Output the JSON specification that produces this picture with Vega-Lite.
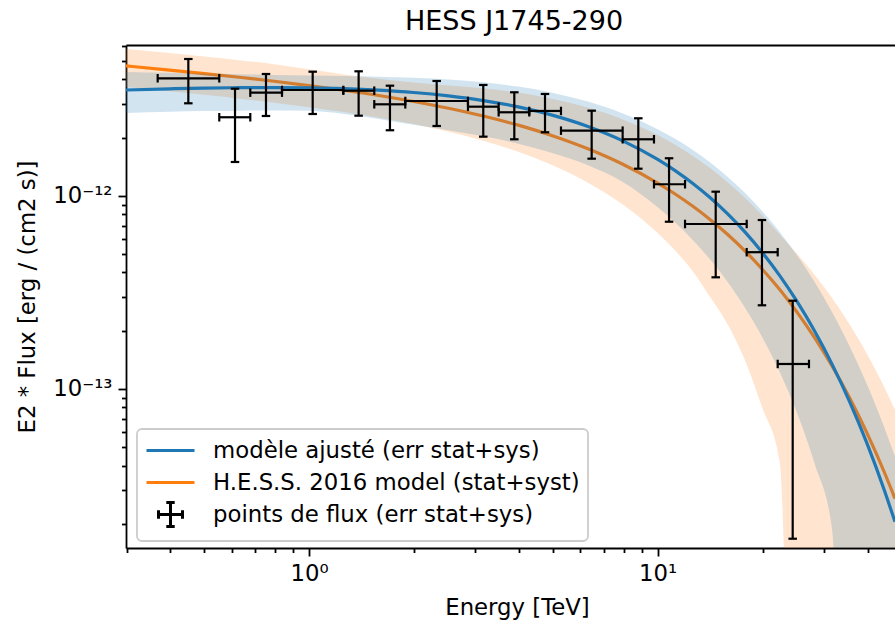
{
  "$schema": "https://vega.github.io/schema/vega-lite/v6.json",
  "width": 769,
  "height": 503,
  "autosize": {"type": "none"},
  "padding": {"left": 126, "top": 45, "right": 0, "bottom": 78},
  "background": "white",
  "title": {"text": "HESS J1745-290", "font": "DejaVu Sans", "fontSize": 27, "fontWeight": "normal", "color": "black", "frame": "group", "offset": 12, "dx": 3.5, "dy": 34, "baseline": "alphabetic"},
  "config": {
    "view": {"stroke": null},
    "font": "DejaVu Sans",
    "legend": {
      "orient": "none", "legendX": 11, "legendY": 384, "padding": 8,
      "fillColor": "rgba(255,255,255,0.8)", "strokeColor": "#cccccc", "strokeWidth": 1.8, "cornerRadius": 5,
      "labelFont": "DejaVu Sans", "labelFontSize": 22.8, "labelColor": "black", "labelLimit": 0,
      "symbolSize": 576, "symbolStrokeWidth": 3, "symbolOpacity": 1, "symbolFillColor": "transparent",
      "labelOffset": 41, "rowPadding": -5
    }
  },
  "datasets": {
    "pts": [
      {"e": 0.4508, "elo": 0.3682, "ehi": 0.553, "f": 4.058e-12, "flo": 3.011e-12, "fhi": 5.108e-12, "series": "points de flux (err stat+sys)"},
      {"e": 0.6136, "elo": 0.553, "ehi": 0.6787, "f": 2.549e-12, "flo": 1.495e-12, "fhi": 3.584e-12, "series": "points de flux (err stat+sys)"},
      {"e": 0.7528, "elo": 0.6787, "ehi": 0.8368, "f": 3.418e-12, "flo": 2.588e-12, "fhi": 4.271e-12, "series": "points de flux (err stat+sys)"},
      {"e": 1.0247, "elo": 0.8368, "ehi": 1.2545, "f": 3.529e-12, "flo": 2.65e-12, "fhi": 4.39e-12, "series": "points de flux (err stat+sys)"},
      {"e": 1.388, "elo": 1.2545, "ehi": 1.539, "f": 3.499e-12, "flo": 2.597e-12, "fhi": 4.41e-12, "series": "points de flux (err stat+sys)"},
      {"e": 1.707, "elo": 1.539, "ehi": 1.889, "f": 2.975e-12, "flo": 2.183e-12, "fhi": 3.715e-12, "series": "points de flux (err stat+sys)"},
      {"e": 2.324, "elo": 1.889, "ehi": 2.857, "f": 3.095e-12, "flo": 2.297e-12, "fhi": 3.929e-12, "series": "points de flux (err stat+sys)"},
      {"e": 3.161, "elo": 2.857, "ehi": 3.499, "f": 2.892e-12, "flo": 2.022e-12, "fhi": 3.747e-12, "series": "points de flux (err stat+sys)"},
      {"e": 3.88, "elo": 3.499, "ehi": 4.283, "f": 2.705e-12, "flo": 1.96e-12, "fhi": 3.434e-12, "series": "points de flux (err stat+sys)"},
      {"e": 4.752, "elo": 4.283, "ehi": 5.281, "f": 2.748e-12, "flo": 2.131e-12, "fhi": 3.365e-12, "series": "points de flux (err stat+sys)"},
      {"e": 6.467, "elo": 5.281, "ehi": 7.935, "f": 2.172e-12, "flo": 1.555e-12, "fhi": 2.757e-12, "series": "points de flux (err stat+sys)"},
      {"e": 8.799, "elo": 7.935, "ehi": 9.759, "f": 1.96e-12, "flo": 1.38e-12, "fhi": 2.518e-12, "series": "points de flux (err stat+sys)"},
      {"e": 10.78, "elo": 9.759, "ehi": 11.98, "f": 1.146e-12, "flo": 7.33e-13, "fhi": 1.563e-12, "series": "points de flux (err stat+sys)"},
      {"e": 14.67, "elo": 11.98, "ehi": 18.0, "f": 7.135e-13, "flo": 3.777e-13, "fhi": 1.049e-12, "series": "points de flux (err stat+sys)"},
      {"e": 19.91, "elo": 18.0, "ehi": 22.09, "f": 5.096e-13, "flo": 2.705e-13, "fhi": 7.48e-13, "series": "points de flux (err stat+sys)"},
      {"e": 24.39, "elo": 22.09, "ehi": 27.16, "f": 1.343e-13, "flo": 1.67e-14, "fhi": 2.857e-13, "series": "points de flux (err stat+sys)"}
    ],
    "blue": [
      {"e": 0.2987, "f": 3.529e-12, "lo": 2.68e-12, "hi": 4.378e-12},
      {"e": 0.3981, "f": 3.579e-12, "lo": 2.72e-12, "hi": 4.331e-12},
      {"e": 0.5012, "f": 3.609e-12, "lo": 2.743e-12, "hi": 4.292e-12},
      {"e": 0.631, "f": 3.628e-12, "lo": 2.757e-12, "hi": 4.256e-12},
      {"e": 0.7943, "f": 3.633e-12, "lo": 2.761e-12, "hi": 4.224e-12},
      {"e": 1.0, "f": 3.62e-12, "lo": 2.751e-12, "hi": 4.197e-12},
      {"e": 1.2589, "f": 3.584e-12, "lo": 2.65e-12, "hi": 4.172e-12},
      {"e": 1.5849, "f": 3.52e-12, "lo": 2.5e-12, "hi": 4.139e-12},
      {"e": 1.9953, "f": 3.424e-12, "lo": 2.33e-12, "hi": 4.087e-12},
      {"e": 2.5119, "f": 3.288e-12, "lo": 2.18e-12, "hi": 4.0e-12},
      {"e": 3.1623, "f": 3.11e-12, "lo": 2.03e-12, "hi": 3.867e-12},
      {"e": 3.9811, "f": 2.884e-12, "lo": 1.86e-12, "hi": 3.674e-12},
      {"e": 5.0119, "f": 2.607e-12, "lo": 1.66e-12, "hi": 3.409e-12},
      {"e": 6.3096, "f": 2.284e-12, "lo": 1.44e-12, "hi": 3.072e-12},
      {"e": 7.9433, "f": 1.924e-12, "lo": 1.179e-12, "hi": 2.669e-12},
      {"e": 10.0, "f": 1.541e-12, "lo": 8.711e-13, "hi": 2.211e-12},
      {"e": 11.22, "f": 1.349e-12, "lo": 7.267e-13, "hi": 1.971e-12},
      {"e": 12.589, "f": 1.16e-12, "lo": 5.915e-13, "hi": 1.729e-12},
      {"e": 14.125, "f": 9.781e-13, "lo": 4.68e-13, "hi": 1.4882e-12},
      {"e": 15.849, "f": 8.068e-13, "lo": 3.583e-13, "hi": 1.2553e-12},
      {"e": 17.783, "f": 6.493e-13, "lo": 2.637e-13, "hi": 1.0349e-12},
      {"e": 19.953, "f": 5.081e-13, "lo": 1.849e-13, "hi": 8.313e-13},
      {"e": 22.387, "f": 3.855e-13, "lo": 1.222e-13, "hi": 6.488e-13},
      {"e": 25.119, "f": 2.823e-13, "lo": 7.47e-14, "hi": 4.899e-13},
      {"e": 28.184, "f": 1.989e-13, "lo": 4.091e-14, "hi": 3.569e-13},
      {"e": 31.623, "f": 1.341e-13, "lo": 1.871e-14, "hi": 2.495e-13},
      {"e": 35.481, "f": 8.603e-14, "lo": 1e-16, "hi": 1.665e-13},
      {"e": 39.811, "f": 5.222e-14, "lo": 1e-16, "hi": 1.054e-13},
      {"e": 44.668, "f": 2.979e-14, "lo": 1e-16, "hi": 6.299e-14},
      {"e": 47.93, "f": 2.042e-14, "lo": 1e-16, "hi": 4.449e-14}
    ],
    "orange": [
      {"e": 0.2987, "f": 4.706e-12, "lo": 3.652e-12, "hi": 5.76e-12},
      {"e": 0.3981, "f": 4.477e-12, "lo": 3.474e-12, "hi": 5.48e-12},
      {"e": 0.5012, "f": 4.294e-12, "lo": 3.33e-12, "hi": 5.258e-12},
      {"e": 0.631, "f": 4.107e-12, "lo": 3.183e-12, "hi": 5.031e-12},
      {"e": 0.7943, "f": 3.917e-12, "lo": 3.033e-12, "hi": 4.801e-12},
      {"e": 1.0, "f": 3.721e-12, "lo": 2.876e-12, "hi": 4.52e-12},
      {"e": 1.2589, "f": 3.517e-12, "lo": 2.712e-12, "hi": 4.25e-12},
      {"e": 1.5849, "f": 3.304e-12, "lo": 2.537e-12, "hi": 4.03e-12},
      {"e": 1.9953, "f": 3.077e-12, "lo": 2.349e-12, "hi": 3.86e-12},
      {"e": 2.5119, "f": 2.839e-12, "lo": 2.146e-12, "hi": 3.72e-12},
      {"e": 3.1623, "f": 2.587e-12, "lo": 1.927e-12, "hi": 3.6e-12},
      {"e": 3.9811, "f": 2.32e-12, "lo": 1.689e-12, "hi": 3.42e-12},
      {"e": 5.0119, "f": 2.04e-12, "lo": 1.435e-12, "hi": 3.17e-12},
      {"e": 6.3096, "f": 1.75e-12, "lo": 1.168e-12, "hi": 2.86e-12},
      {"e": 7.9433, "f": 1.455e-12, "lo": 8.996e-13, "hi": 2.485e-12},
      {"e": 10.0, "f": 1.162e-12, "lo": 6.401e-13, "hi": 2.06e-12},
      {"e": 11.22, "f": 1.02e-12, "lo": 5.193e-13, "hi": 1.835e-12},
      {"e": 12.589, "f": 8.835e-13, "lo": 4.074e-13, "hi": 1.61e-12},
      {"e": 14.125, "f": 7.529e-13, "lo": 2.994e-13, "hi": 1.39e-12},
      {"e": 15.849, "f": 6.308e-13, "lo": 2.166e-13, "hi": 1.175e-12},
      {"e": 17.783, "f": 5.18e-13, "lo": 1.41e-13, "hi": 9.75e-13},
      {"e": 19.953, "f": 4.16e-13, "lo": 7.96e-14, "hi": 7.9e-13},
      {"e": 22.387, "f": 3.263e-13, "lo": 4.18e-14, "hi": 6.3e-13},
      {"e": 25.119, "f": 2.486e-13, "lo": 1e-16, "hi": 4.981e-13},
      {"e": 28.184, "f": 1.837e-13, "lo": 1e-16, "hi": 3.895e-13},
      {"e": 31.623, "f": 1.311e-13, "lo": 1e-16, "hi": 2.952e-13},
      {"e": 35.481, "f": 8.994e-14, "lo": 1e-16, "hi": 2.159e-13},
      {"e": 39.811, "f": 5.905e-14, "lo": 1e-16, "hi": 1.516e-13},
      {"e": 44.668, "f": 3.691e-14, "lo": 1e-16, "hi": 1.016e-13},
      {"e": 47.93, "f": 2.694e-14, "lo": 1e-16, "hi": 7.76e-14}
    ]
  },
  "resolve": {"axis": {"x": "independent", "y": "independent"}},
  "layer": [
    {
      "data": {"name": "orange"},
      "mark": {"type": "area", "color": "#ff7f0e", "opacity": 0.2, "clip": true, "interpolate": "monotone"},
      "encoding": {
        "x": {"field": "e", "type": "quantitative", "scale": {"type": "log", "domain": [0.2987, 47.93], "nice": false},
              "axis": {"orient": "top", "labels": false, "ticks": false, "title": null, "grid": false, "domainColor": "black", "domainWidth": 1.8}},
        "y": {"field": "lo", "type": "quantitative", "scale": {"type": "log", "domain": [1.495e-14, 6.036e-12], "nice": false},
              "axis": {
                "orient": "left", "grid": false,
                "values": [2e-14, 3e-14, 4e-14, 5e-14, 6e-14, 7e-14, 8e-14, 9e-14, 1e-13, 2e-13, 3e-13, 4e-13, 5e-13, 6e-13, 7e-13, 8e-13, 9e-13, 1e-12, 2e-12, 3e-12, 4e-12, 5e-12, 6e-12],
                "labelExpr": "abs(datum.value/1e-12-1)<0.001 ? '10⁻¹²' : (abs(datum.value/1e-13-1)<0.001 ? '10⁻¹³' : '')",
                "tickSize": {"condition": {"test": "abs(log(datum.value)/LN10 - round(log(datum.value)/LN10)) < 0.001", "value": 8}, "value": 4.5},
                "tickWidth": 1.8, "tickColor": "black", "domainColor": "black", "domainWidth": 1.8,
                "labelFont": "DejaVu Sans", "labelFontSize": 22.8, "labelColor": "black", "labelPadding": 6, "labelOverlap": false, "labelFlush": false,
                "title": "E2 * Flux [erg / (cm2 s)]", "titleFont": "DejaVu Sans", "titleFontSize": 22.8, "titleFontWeight": "normal", "titleColor": "black",
                "titleX": -99, "titleY": 251.5, "titleAngle": -90, "titleBaseline": "middle", "titleAlign": "center"
              }},
        "y2": {"field": "hi"}
      }
    },
    {
      "data": {"name": "orange"},
      "mark": {"type": "line", "color": "#ff7f0e", "strokeWidth": 3.2, "clip": true, "interpolate": "monotone"},
      "encoding": {
        "x": {"field": "e", "type": "quantitative", "axis": null},
        "y": {"field": "f", "type": "quantitative", "axis": null}
      }
    },
    {
      "data": {"name": "blue"},
      "mark": {"type": "area", "color": "#1f77b4", "opacity": 0.2, "clip": true, "interpolate": "monotone"},
      "encoding": {
        "x": {"field": "e", "type": "quantitative", "axis": null},
        "y": {"field": "lo", "type": "quantitative", "axis": null},
        "y2": {"field": "hi"}
      }
    },
    {
      "data": {"name": "blue"},
      "mark": {"type": "line", "color": "#1f77b4", "strokeWidth": 3.2, "clip": true, "interpolate": "monotone"},
      "encoding": {
        "x": {"field": "e", "type": "quantitative",
              "axis": {
                "orient": "bottom", "grid": false,
                "values": [0.3, 0.4, 0.5, 0.6, 0.7, 0.8, 0.9, 1, 2, 3, 4, 5, 6, 7, 8, 9, 10, 20, 30, 40],
                "labelExpr": "abs(datum.value-1)<0.001 ? '10⁰' : (abs(datum.value-10)<0.001 ? '10¹' : '')",
                "tickSize": {"condition": {"test": "abs(log(datum.value)/LN10 - round(log(datum.value)/LN10)) < 0.001", "value": 8}, "value": 4.5},
                "tickWidth": 1.8, "tickColor": "black", "domainColor": "black", "domainWidth": 1.8,
                "labelFont": "DejaVu Sans", "labelFontSize": 22.8, "labelColor": "black", "labelPadding": 6, "labelOverlap": false, "labelFlush": false,
                "title": "Energy [TeV]", "titleFont": "DejaVu Sans", "titleFontSize": 22.8, "titleFontWeight": "normal", "titleColor": "black",
                "titleX": 391, "titleY": 59, "titleBaseline": "middle", "titleAlign": "center"
              }},
        "y": {"field": "f", "type": "quantitative", "axis": null}
      }
    },
    {
      "data": {"name": "pts"},
      "mark": {"type": "rule", "color": "black", "strokeWidth": 2.2},
      "encoding": {
        "x": {"field": "elo", "type": "quantitative", "axis": null},
        "x2": {"field": "ehi"},
        "y": {"field": "f", "type": "quantitative", "axis": null}
      }
    },
    {
      "data": {"name": "pts"},
      "mark": {"type": "rule", "color": "black", "strokeWidth": 2.2},
      "encoding": {
        "x": {"field": "e", "type": "quantitative", "axis": null},
        "y": {"field": "flo", "type": "quantitative", "axis": null},
        "y2": {"field": "fhi"}
      }
    },
    {
      "data": {"name": "pts"},
      "mark": {"type": "tick", "orient": "vertical", "size": 8.5, "thickness": 2.2, "color": "black", "opacity": 1},
      "encoding": {
        "x": {"field": "elo", "type": "quantitative", "axis": null},
        "y": {"field": "f", "type": "quantitative", "axis": null}
      }
    },
    {
      "data": {"name": "pts"},
      "mark": {"type": "tick", "orient": "vertical", "size": 8.5, "thickness": 2.2, "color": "black", "opacity": 1},
      "encoding": {
        "x": {"field": "ehi", "type": "quantitative", "axis": null},
        "y": {"field": "f", "type": "quantitative", "axis": null}
      }
    },
    {
      "data": {"name": "pts"},
      "mark": {"type": "tick", "orient": "horizontal", "size": 8.5, "thickness": 2.2, "color": "black", "opacity": 1},
      "encoding": {
        "x": {"field": "e", "type": "quantitative", "axis": null},
        "y": {"field": "flo", "type": "quantitative", "axis": null}
      }
    },
    {
      "data": {"name": "pts"},
      "mark": {"type": "tick", "orient": "horizontal", "size": 8.5, "thickness": 2.2, "color": "black", "opacity": 1},
      "encoding": {
        "x": {"field": "e", "type": "quantitative", "axis": null},
        "y": {"field": "fhi", "type": "quantitative", "axis": null}
      }
    },
    {
      "data": {"name": "pts"},
      "mark": {"type": "point", "filled": false, "opacity": 0, "size": 10},
      "encoding": {
        "x": {"field": "e", "type": "quantitative", "axis": null},
        "y": {"field": "f", "type": "quantitative", "axis": null},
        "color": {"field": "series", "type": "nominal",
                  "scale": {"domain": ["modèle ajusté (err stat+sys)", "H.E.S.S. 2016 model (stat+syst)", "points de flux (err stat+sys)"], "range": ["#1f77b4", "#ff7f0e", "#000000"]},
                  "legend": {"title": null}},
        "shape": {"field": "series", "type": "nominal",
                  "scale": {"domain": ["modèle ajusté (err stat+sys)", "H.E.S.S. 2016 model (stat+syst)", "points de flux (err stat+sys)"],
                            "range": ["M-1,-1M-1,1M-1,0H3", "M-1,-1M-1,1M-1,0H3", "M0,0H2M1,-1V1M0,-0.35V0.35M2,-0.35V0.35M0.65,-1H1.35M0.65,1H1.35"]},
                  "legend": {"title": null}}
      }
    }
  ]
}
